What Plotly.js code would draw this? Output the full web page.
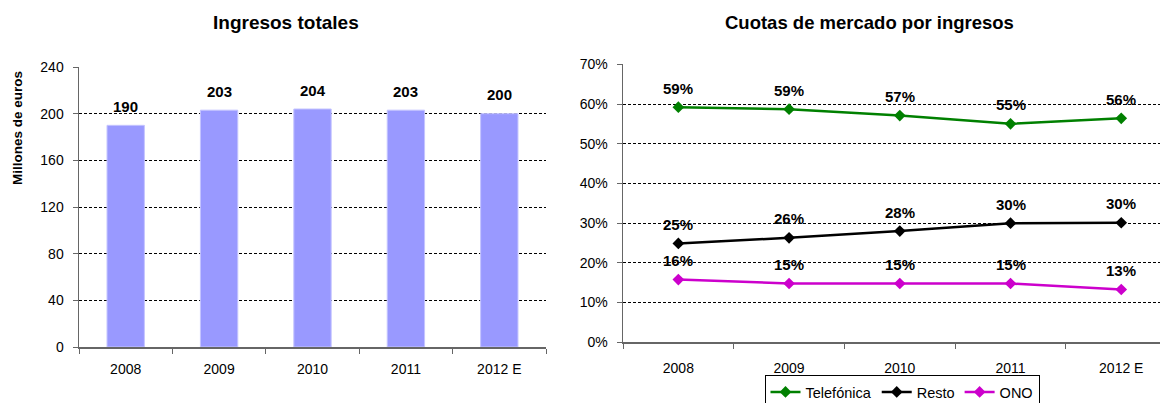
<!DOCTYPE html>
<html>
<head>
<meta charset="utf-8">
<script src="https://cdn.plot.ly/plotly-3.0.1.min.js"></script>
<style>html,body{margin:0;padding:0;background:#fff;}#chart{width:1164px;height:403px;}</style>
</head>
<body>
<div id="chart"></div>
<script>
const years = ["2008", "2009", "2010", "2011", "2012 E"];
const ingresos = [190, 203, 204, 203, 200];
const ingresosLabels = ["190", "203", "204", "203", "200"];
const telefonica = [59.2, 58.7, 57.1, 55.0, 56.4];
const resto = [24.9, 26.3, 28.0, 30.0, 30.1];
const ono = [15.8, 14.8, 14.8, 14.8, 13.3];
const telefonicaLabels = ["59%", "59%", "57%", "55%", "56%"];
const restoLabels = ["25%", "26%", "28%", "30%", "30%"];
const onoLabels = ["16%", "15%", "15%", "15%", "13%"];
const leftTicks = [0, 40, 80, 120, 160, 200, 240];
const rightTicks = [0, 10, 20, 30, 40, 50, 60, 70];
const rightTickText = ["0%", "10%", "20%", "30%", "40%", "50%", "60%", "70%"];

const FONT = "Arial, 'Liberation Sans', sans-serif";
const W = 1164, H = 403;
const px = v => v / W;
const py = v => 1 - v / H;

const lineTrace = (name, vals, color) => ({
  type: 'scatter', mode: 'lines+markers', x: years, y: vals, name: name,
  xaxis: 'x2', yaxis: 'y2',
  line: {color: color, width: 2.5},
  marker: {symbol: 'diamond', size: 9, color: color},
  cliponaxis: false
});

const data = [
  {type: 'bar', x: years, y: ingresos, xaxis: 'x', yaxis: 'y', width: 0.4,
   marker: {color: '#9999FF', line: {color: '#c4c4ff', width: 1}}, showlegend: false, hoverinfo: 'none'},
  lineTrace('Telefónica', telefonica, '#008000'),
  lineTrace('Resto', resto, '#000000'),
  lineTrace('ONO', ono, '#CC00CC')
];

const labelFont = {family: FONT, size: 15, color: '#000', weight: 'bold'};
const annotations = [];
years.forEach((yr, i) => {
  annotations.push({xref: 'x', yref: 'y', x: i, y: ingresos[i], text: ingresosLabels[i], showarrow: false,
    yshift: 19, yanchor: 'middle', font: labelFont});
});
[[telefonica, telefonicaLabels], [resto, restoLabels], [ono, onoLabels]].forEach(([vals, labs]) => {
  years.forEach((yr, i) => {
    annotations.push({xref: 'x2', yref: 'y2', x: i, y: vals[i], text: labs[i], showarrow: false,
      yshift: 19, yanchor: 'middle', font: labelFont});
  });
});
annotations.push({xref: 'paper', yref: 'paper', x: px(286), y: py(23), text: 'Ingresos totales', showarrow: false,
  xanchor: 'center', yanchor: 'middle', font: {family: FONT, size: 19, color: '#000', weight: 'bold'}});
annotations.push({xref: 'paper', yref: 'paper', x: px(869), y: py(23), text: 'Cuotas de mercado por ingresos', showarrow: false,
  xanchor: 'center', yanchor: 'middle', font: {family: FONT, size: 18.5, color: '#000', weight: 'bold'}});
annotations.push({xref: 'paper', yref: 'paper', x: px(17), y: py(128), text: 'Millones de euros', showarrow: false,
  textangle: -90, xanchor: 'center', yanchor: 'middle', font: {family: FONT, size: 13.5, color: '#000', weight: 'bold'}});

const axisCommon = {
  showline: true, linecolor: '#666', linewidth: 1.5, ticks: 'outside', ticklen: 5, tickcolor: '#666',
  tickfont: {family: FONT, size: 14, color: '#000'}, zeroline: false, fixedrange: true
};

const layout = {
  width: W, height: H,
  margin: {l: 0, r: 0, t: 0, b: 0, autoexpand: false},
  paper_bgcolor: '#fff', plot_bgcolor: 'rgba(0,0,0,0)',
  font: {family: FONT, color: '#000'},
  showlegend: true,
  legend: {orientation: 'h', x: px(902), xanchor: 'center', y: py(375), yanchor: 'top',
    bordercolor: '#000', borderwidth: 1, bgcolor: '#fff',
    font: {family: FONT, size: 14.5, color: '#000'}, itemwidth: 30, tracegroupgap: 0},
  xaxis: Object.assign({}, axisCommon, {domain: [px(79), px(546)], type: 'category', range: [-0.5, 4.5],
    tickson: 'boundaries', anchor: 'y', showgrid: false, ticklabelstandoff: 9}),
  yaxis: Object.assign({}, axisCommon, {domain: [py(347), py(67)], range: [0, 240], tickmode: 'array', tickvals: leftTicks,
    showgrid: true, gridcolor: '#000', griddash: '3px,2px', gridwidth: 1, anchor: 'x', ticklabelstandoff: 6}),
  xaxis2: Object.assign({}, axisCommon, {domain: [px(623), px(1160)], type: 'category', range: [-0.5, 4.35],
    tickson: 'boundaries', anchor: 'y2', showgrid: false, ticklabelstandoff: 12}),
  yaxis2: Object.assign({}, axisCommon, {domain: [py(342.3), py(64.3)], range: [0, 70], tickmode: 'array',
    tickvals: rightTicks, ticktext: rightTickText, ticklabelstandoff: 6,
    showgrid: true, gridcolor: '#000', griddash: '3px,2px', gridwidth: 1, anchor: 'x2'}),
  annotations: annotations
};

Plotly.newPlot('chart', data, layout, {displayModeBar: false, staticPlot: true});
</script>
</body>
</html>
